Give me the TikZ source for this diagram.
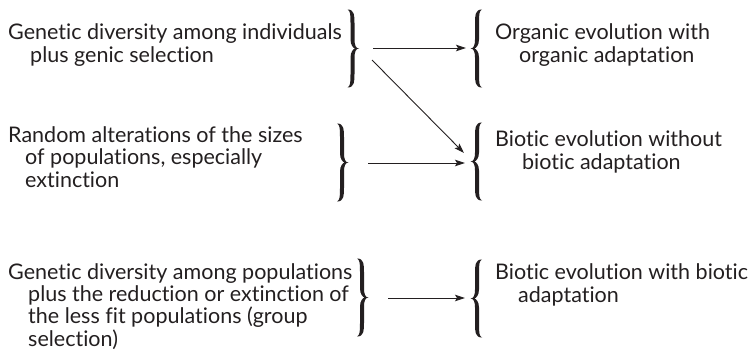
\documentclass[tikz,border=0pt]{standalone}
\usepackage{fontspec}
\setmainfont{Lato}[Ligatures={NoCommon}]
\usetikzlibrary{arrows.meta}
\definecolor{ink}{HTML}{231F20}
\tikzset{
  txt/.style={anchor=base west, inner sep=0pt, align=left, text=ink,
    font=\fontsize{21.5pt}{22.2pt}\selectfont},
  arr/.style={draw=ink, line width=0.9pt, -{Stealth[length=10pt,width=6.5pt,inset=2pt]}},
  rbr/.pic={
    \fill[ink] (0,39) .. controls (7,39) and (7,33) .. (7,25)
      -- (7,9) .. controls (7,3) and (8.5,0) .. (11.5,0)
      .. controls (8.5,0) and (7,-3) .. (7,-9)
      -- (7,-25) .. controls (7,-33) and (7,-39) .. (0,-39)
      .. controls (3,-38) and (3,-33) .. (3,-25)
      -- (3,-9) .. controls (3,-3) and (6,-0.6) .. (7.4,0)
      .. controls (6,0.6) and (3,3) .. (3,9)
      -- (3,25) .. controls (3,33) and (3,38) .. (0,39) -- cycle;
  }
}
\begin{document}
\begin{tikzpicture}[x=1pt,y=-1pt]
\useasboundingbox (0,0) rectangle (748,364);
% left texts (anchor = baseline of last line)
\node[txt] (t1) at (8,62) {Genetic diversity among individuals\\\hspace*{22pt}plus genic selection};
\node[txt] (t2) at (8,187) {Random alterations of the sizes\\\hspace*{17pt}of populations, especially\\\hspace*{17pt}extinction};
\node[txt] (t3) at (8,346) {Genetic diversity among populations\\\hspace*{20pt}plus the reduction or extinction of\\\hspace*{20pt}the less fit populations (group\\\hspace*{20pt}selection)};
% right texts
\node[txt] (r1) at (495,62) {Organic evolution with\\\hspace*{24pt}organic adaptation};
\node[txt] (r2) at (495,169) {Biotic evolution without\\\hspace*{27pt}biotic adaptation};
\node[txt] (r3) at (495,302) {Biotic evolution with biotic\\\hspace*{23pt}adaptation};
% braces
\pic at (347.5,48.5) {rbr};
\pic[xscale=-1] at (482,48.5) {rbr};
\pic at (337,162.5) {rbr};
\pic[xscale=-1] at (482,161.5) {rbr};
\pic at (357,297.5) {rbr};
\pic[xscale=-1] at (482,298.5) {rbr};
% arrow end points
\coordinate (a1s) at (373,48);
\coordinate (a1e) at (466,48);
\coordinate (a2s) at (372,60);
\coordinate (a2e) at (464,153);
\coordinate (a3s) at (368,163);
\coordinate (a3e) at (465,163);
\coordinate (a4s) at (388,298);
\coordinate (a4e) at (465,298);
\draw[arr] (a1s) -- (a1e);
\draw[arr] (a2s) -- (a2e);
\draw[arr] (a3s) -- (a3e);
\draw[arr] (a4s) -- (a4e);
\end{tikzpicture}
\end{document}
